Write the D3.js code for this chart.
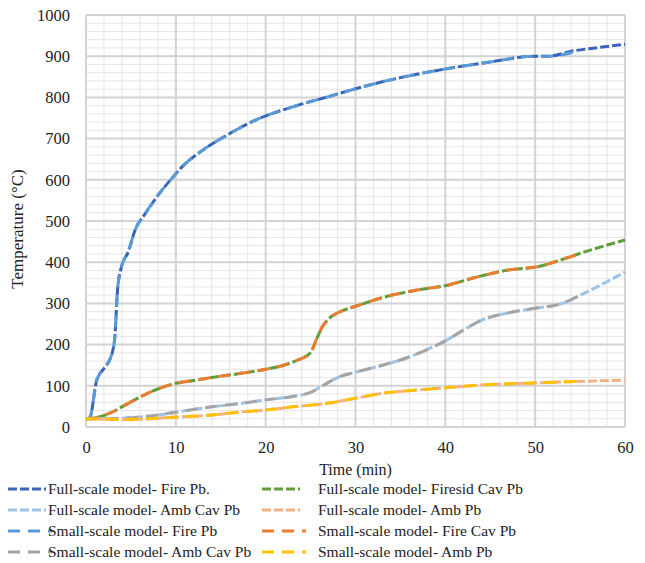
<!DOCTYPE html>
<html>
<head>
<meta charset="utf-8">
<script src="https://cdn.jsdelivr.net/npm/d3@7"></script>
</head>
<body style="margin:0;background:#fff">
<svg id="chart" width="645" height="563" style="display:block"></svg>
<script>
// Time axis (min) and temperature readings (°C) for each thermocouple series
const xTicks = [0, 10, 20, 30, 40, 50, 60];
const yTicks = [0, 100, 200, 300, 400, 500, 600, 700, 800, 900, 1000];

// Full-scale model
const fullFireT   = [0, 0.4, 1.2, 2, 2.8, 3.2, 3.5, 3.9, 4.7, 5.5, 6.5, 8, 9.5, 11, 13, 15.5, 19, 23, 27, 30, 35, 40, 45, 50, 51.5, 54, 57, 60];
const fullFireV   = [20, 22, 114, 142, 172, 215, 330, 385, 425, 480, 515, 562, 602, 638, 672, 706, 746, 777, 802, 821, 848, 869, 886, 900, 900, 912, 921, 929];

const fullCavT    = [0, 1, 2.7, 4.5, 6.4, 8.2, 10, 12, 14, 17.5, 20, 22, 23.5, 25, 25.6, 26.3, 27, 28.3, 30, 33, 37, 40, 43.5, 47, 50.5, 52.5, 55.5, 60];
const fullCavV    = [20, 22, 34, 55, 77, 94, 106, 113, 120, 131, 140, 150, 162, 180, 210, 243, 262, 280, 293, 314, 333, 343, 364, 381, 390, 403, 425, 454];

const fullAmbCavT = [0, 2, 4.5, 8, 10, 14, 17.5, 20, 23, 25, 26.5, 28, 30, 33, 36, 38.5, 40, 42, 44, 47, 50, 53, 55.5, 60];
const fullAmbCavV = [20, 20, 22, 29, 36, 49, 58, 66, 74, 84, 102, 120, 133, 150, 170, 193, 209, 235, 259, 277, 288, 300, 325, 376];

const fullAmbT    = [0, 2, 4.5, 7, 10, 14, 17.5, 20, 23, 27, 30, 33, 37, 40, 44, 50, 54, 60];
const fullAmbV    = [20, 19, 18, 20, 24, 29, 37, 41, 49, 58, 70, 82, 90, 95, 102, 107, 110, 114];

// Small-scale model
const smallFireT   = [0, 0.4, 1.2, 2, 2.8, 3.2, 3.5, 3.9, 4.7, 5.5, 6.5, 8, 9.5, 11, 13, 15.5, 19, 23, 27, 30, 35, 40, 45, 50, 51.5, 55];
const smallFireV   = [20, 22, 114, 142, 172, 215, 330, 385, 425, 480, 515, 562, 602, 638, 672, 706, 746, 777, 802, 821, 848, 869, 886, 900, 900, 915];

const smallCavT    = [0, 1, 2.7, 4.5, 6.4, 8.2, 10, 12, 14, 17.5, 20, 22, 23.5, 25, 25.6, 26.3, 27, 28.3, 30, 33, 37, 40, 43.5, 47, 50.5, 52.5, 55];
const smallCavV    = [20, 22, 34, 55, 77, 94, 106, 113, 120, 131, 140, 150, 162, 180, 210, 243, 262, 280, 293, 314, 333, 343, 364, 381, 390, 403, 421];

const smallAmbCavT = [0, 2, 4.5, 8, 10, 14, 17.5, 20, 23, 25, 26.5, 28, 30, 33, 36, 38.5, 40, 42, 44, 47, 50, 53, 55];
const smallAmbCavV = [20, 20, 22, 29, 36, 49, 58, 66, 74, 84, 102, 120, 133, 150, 170, 193, 209, 235, 259, 277, 288, 300, 320];

const smallAmbT    = [0, 2, 4.5, 7, 10, 14, 17.5, 20, 23, 27, 30, 33, 37, 40, 44, 50, 55];
const smallAmbV    = [20, 19, 18, 20, 24, 29, 37, 41, 49, 58, 70, 82, 90, 95, 102, 107, 111];

const seriesNames = [
  "Full-scale model- Fire Pb.",
  "Full-scale model- Firesid Cav Pb",
  "Full-scale model- Amb Cav Pb",
  "Full-scale model- Amb Pb",
  "Small-scale model- Fire Pb",
  "Small-scale model- Fire Cav Pb",
  "Small-scale model- Amb Cav Pb",
  "Small-scale model- Amb Pb"
];
const seriesColors = ["#3A64B8", "#5F9E3A", "#9DC3E6", "#F4B183", "#5B9BD5", "#ED7D31", "#A5A5A5", "#FFC000"];

const zip = (t, v) => t.map((x, i) => ({ t: x, v: v[i] }));
const series = [
  { name: seriesNames[0], color: seriesColors[0], kind: "full",  pts: zip(fullFireT, fullFireV) },
  { name: seriesNames[1], color: seriesColors[1], kind: "full",  pts: zip(fullCavT, fullCavV) },
  { name: seriesNames[2], color: seriesColors[2], kind: "full",  pts: zip(fullAmbCavT, fullAmbCavV) },
  { name: seriesNames[3], color: seriesColors[3], kind: "full",  pts: zip(fullAmbT, fullAmbV) },
  { name: seriesNames[4], color: seriesColors[4], kind: "small", pts: zip(smallFireT, smallFireV) },
  { name: seriesNames[5], color: seriesColors[5], kind: "small", pts: zip(smallCavT, smallCavV) },
  { name: seriesNames[6], color: seriesColors[6], kind: "small", pts: zip(smallAmbCavT, smallAmbCavV) },
  { name: seriesNames[7], color: seriesColors[7], kind: "small", pts: zip(smallAmbT, smallAmbV) }
];
const dashFor = { full: "9,3", small: "12,8" };
const SERIF = '"Liberation Serif"';

const svg = d3.select("#chart");
const plot = { left: 86, right: 625, top: 15, bottom: 427 };

const x = d3.scaleLinear().domain([0, 60]).range([plot.left, plot.right]);
const y = d3.scaleLinear().domain([0, 1000]).range([plot.bottom, plot.top]);

// Grid: minor every 2 min / 20 °C, major every 10 min / 100 °C
const grid = svg.append("g");
grid.selectAll("line.vminor").data(d3.range(0, 61, 2)).join("line")
  .attr("x1", d => x(d)).attr("x2", d => x(d))
  .attr("y1", plot.top).attr("y2", plot.bottom)
  .attr("stroke", "#E6E6E6").attr("stroke-width", 1);
grid.selectAll("line.hminor").data(d3.range(0, 1001, 20)).join("line")
  .attr("x1", plot.left).attr("x2", plot.right)
  .attr("y1", d => y(d)).attr("y2", d => y(d))
  .attr("stroke", "#E6E6E6").attr("stroke-width", 1);
grid.selectAll("line.vmajor").data(xTicks).join("line")
  .attr("x1", d => x(d)).attr("x2", d => x(d))
  .attr("y1", plot.top).attr("y2", plot.bottom)
  .attr("stroke", "#D3D3D3").attr("stroke-width", 2);
grid.selectAll("line.hmajor").data(yTicks).join("line")
  .attr("x1", plot.left).attr("x2", plot.right)
  .attr("y1", d => y(d)).attr("y2", d => y(d))
  .attr("stroke", "#D3D3D3").attr("stroke-width", 2);

// Axes (tick labels only, lines come from the grid)
const xAxis = svg.append("g").attr("transform", `translate(0,${plot.bottom})`)
  .call(d3.axisBottom(x).tickValues(xTicks).tickFormat(d3.format("d")).tickSize(0).tickPadding(14));
const yAxis = svg.append("g").attr("transform", `translate(${plot.left},0)`)
  .call(d3.axisLeft(y).tickValues(yTicks).tickFormat(d3.format("d")).tickSize(0).tickPadding(16));
[xAxis, yAxis].forEach(a => {
  a.attr("font-family", null).attr("font-size", null);
  a.select(".domain").remove();
  a.selectAll("text")
    .style("font-family", SERIF).style("font-size", "16.5px")
    .attr("fill", "#222");
});

// Series lines
const line = d3.line().x(d => x(d.t)).y(d => y(d.v)).curve(d3.curveMonotoneX);
svg.append("g").selectAll("path").data(series).join("path")
  .attr("d", d => line(d.pts))
  .attr("fill", "none")
  .attr("stroke", d => d.color)
  .attr("stroke-width", 3)
  .attr("stroke-dasharray", d => dashFor[d.kind]);

// Axis titles
svg.append("text").attr("x", (plot.left + plot.right) / 2).attr("y", 475)
  .attr("text-anchor", "middle").attr("fill", "#222")
  .style("font-family", SERIF).style("font-size", "16px")
  .text("Time (min)");
svg.append("text").attr("transform", "translate(23,229) rotate(-90)")
  .attr("text-anchor", "middle").attr("fill", "#222")
  .style("font-family", SERIF).style("font-size", "17px")
  .text("Temperature (°C)");

// Legend: two columns, four rows
const colX = [8, 262];
const rowY = [489, 510, 531, 552];
const item = svg.append("g").selectAll("g").data(series).join("g")
  .attr("transform", (d, i) => `translate(${colX[i % 2]},${rowY[Math.floor(i / 2)]})`);
item.append("line")
  .attr("x1", 0).attr("x2", d => d.kind === "full" ? 38 : 44).attr("y1", 0).attr("y2", 0)
  .attr("stroke", d => d.color).attr("stroke-width", 3)
  .attr("stroke-dasharray", d => dashFor[d.kind]);
item.append("text")
  .attr("x", (d, i) => i % 2 === 0 ? 40 : 56).attr("y", 0).attr("dy", "0.35em")
  .attr("fill", "#222")
  .style("font-family", SERIF).style("font-size", "15.5px")
  .text(d => d.name);
</script>
</body>
</html>
